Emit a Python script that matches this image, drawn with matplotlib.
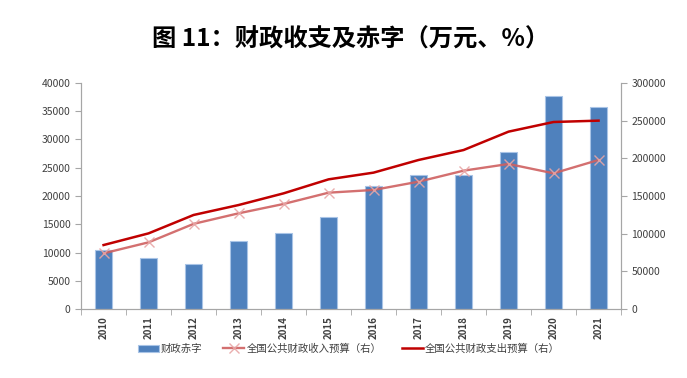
import matplotlib.pyplot as plt
import numpy as np

plt.rcParams['font.family'] = ['Noto Sans CJK SC', 'DejaVu Sans']

# data
years = ['2010', '2011', '2012', '2013', '2014', '2015',
         '2016', '2017', '2018', '2019', '2020', '2021']
deficit = [10500, 9000, 8000, 12000, 13500, 16300,
           21800, 23800, 23800, 27700, 37700, 35700]
revenue = [73900, 88500, 113000, 127000, 139400, 154400,
           158000, 169000, 183600, 192500, 180100, 197800]
expenditure = [84900, 100400, 124800, 138000, 153500, 172100,
               181000, 197800, 211000, 235400, 248200, 250000]

x = np.arange(len(years))
axis_gray = '#A6A6A6'
text_col = '#404040'

fig = plt.figure(figsize=(6.87, 3.78), dpi=100)
ax = fig.add_axes([0.118, 0.1825, 0.786, 0.598])
ax2 = ax.twinx()

bars = ax.bar(x, deficit, width=0.38, color='#4F81BD', edgecolor='#A9C4E6',
              linewidth=0.8, label='财政赤字', zorder=2)

l1, = ax2.plot(x, revenue, color='#CF6060', lw=1.7, alpha=0.9,
               marker='x', markersize=6.5, markeredgecolor='#E8A5A5',
               markeredgewidth=1.0, label='全国公共财政收入预算（右）')
l2, = ax2.plot(x, expenditure, color='#C00000', lw=1.8,
               label='全国公共财政支出预算（右）')

ax.set_xlim(-0.5, len(years) - 0.5)
ax.set_ylim(0, 40000)
ax.set_yticks(np.arange(0, 40001, 5000))
ax2.set_ylim(0, 300000)
ax2.set_yticks(np.arange(0, 300001, 50000))

ax.set_xticks(x)
ax.set_xticklabels(years, rotation=90, fontsize=7, fontweight='bold', color=text_col)
ax.set_xticks(np.arange(-0.5, len(years), 1), minor=True)
ax.tick_params(axis='x', which='major', length=0, pad=5)
ax.tick_params(axis='x', which='minor', length=4, color=axis_gray, direction='out')
ax.tick_params(axis='y', labelsize=7.5, colors=text_col, length=4, color=axis_gray)
ax2.tick_params(axis='y', labelsize=7.5, colors=text_col, length=4, color=axis_gray)
for lab in ax.get_yticklabels() + ax2.get_yticklabels():
    lab.set_color(text_col)

for a in (ax, ax2):
    a.spines['top'].set_visible(False)
    for s in ('left', 'right', 'bottom'):
        a.spines[s].set_color(axis_gray)
        a.spines[s].set_linewidth(0.8)

fig.text(0.51, 0.895, '图 11：财政收支及赤字（万元、%）', ha='center', va='center',
         fontsize=17.5, fontweight='bold', color='black')

fig.legend([bars, l1, l2], ['财政赤字', '全国公共财政收入预算（右）', '全国公共财政支出预算（右）'],
           loc='center', bbox_to_anchor=(0.508, 0.077), ncol=3, frameon=False,
           fontsize=7.5, handlelength=2.0, handletextpad=0.2, columnspacing=2.0,
           labelcolor=text_col)

fig.savefig('out.png', dpi=100)
